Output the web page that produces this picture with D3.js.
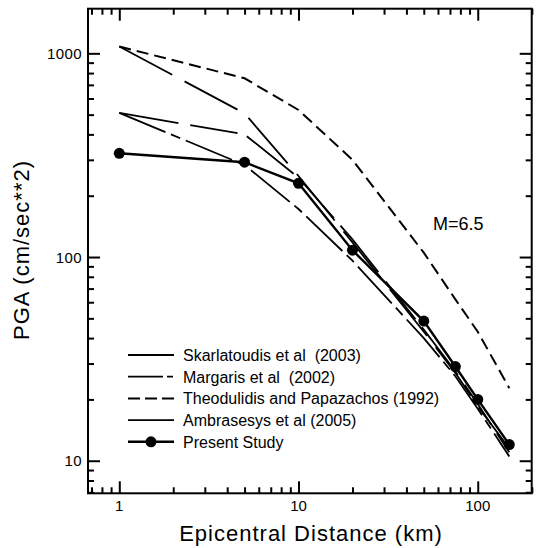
<!DOCTYPE html>
<html><head><meta charset="utf-8">
<script src="https://cdn.jsdelivr.net/npm/d3@7"></script>
<style>
html,body{margin:0;padding:0;background:#fff;}
svg{display:block;font-family:"Liberation Sans",Arial,sans-serif;}
text{white-space:pre;}
</style></head>
<body><svg id="c" width="537" height="548"></svg>
<script>
// ---- data ----
const distances = [1, 5, 10, 20, 50, 75, 100, 150];
const skarlatoudis = [1080, 507, 250, 118, 43, 27, 18.5, 11.5];
const margaris = [510, 400, 245, 122, 44, 27.5, 19, 11];
const theodulidis = [1080, 754, 527, 300, 105, 62, 43, 22.7];
const ambraseys = [510, 283, 172, 96, 40, 26, 18, 10.5];
const presentStudy = [323, 292, 230, 108, 48.5, 29, 20, 12];
const seriesNames = ["Skarlatoudis et al  (2003)", "Margaris et al  (2002)", "Theodulidis and Papazachos (1992)", "Ambrasesys et al (2005)", "Present Study"];
const xTickLabels = ["1", "10", "100"];
const yTickLabels = ["10", "100", "1000"];
const magnitudeLabel = "M=6.5";

const svg = d3.select("#c");
const L = 88, R = 531.7, T = 8.7, B = 493.3;
const x = d3.scaleLog().domain([0.669, 200]).range([L, R]);
const y = d3.scaleLog().domain([6.92, 1656]).range([B, T]);

// minor/major ticks
const xTicks = [];
[0.1, 1, 10, 100].forEach(dec => { for (let m = 1; m <= 9; m++) { const v = dec * m; if (v >= 0.669 && v <= 200) xTicks.push(v); } });
xTicks.push(200);
const yTicks = [];
[1, 10, 100, 1000].forEach(dec => { for (let m = 1; m <= 9; m++) { const v = dec * m; if (v >= 6.92 && v <= 1656) yTicks.push(v); } });
const isMajor = v => Math.abs(Math.log10(v) - Math.round(Math.log10(v))) < 1e-9;

const axG = svg.append("g");
const gB = axG.append("g").attr("transform", `translate(0,${B})`).call(d3.axisTop(x).tickValues(xTicks).tickFormat("").tickSizeOuter(0));
const gT = axG.append("g").attr("transform", `translate(0,${T})`).call(d3.axisBottom(x).tickValues(xTicks).tickFormat("").tickSizeOuter(0));
const gL = axG.append("g").attr("transform", `translate(${L},0)`).call(d3.axisRight(y).tickValues(yTicks).tickFormat("").tickSizeOuter(0));
const gR = axG.append("g").attr("transform", `translate(${R},0)`).call(d3.axisLeft(y).tickValues(yTicks).tickFormat("").tickSizeOuter(0));
[gB, gT, gL, gR].forEach(g => {
  g.select(".domain").remove();
  g.selectAll(".tick line").attr("stroke", "#000").attr("stroke-width", 2);
});
gB.selectAll(".tick line").attr("y2", d => isMajor(d) ? -12 : -6);
gT.selectAll(".tick line").attr("y2", d => isMajor(d) ? 12 : 6);
gL.selectAll(".tick line").attr("x2", d => isMajor(d) ? 12 : 6);
gR.selectAll(".tick line").attr("x2", d => isMajor(d) ? -12 : -6);

// frame
svg.append("rect").attr("x", L).attr("y", T).attr("width", R - L).attr("height", B - T)
  .attr("fill", "none").attr("stroke", "#000").attr("stroke-width", 2);

// tick labels
svg.selectAll(".xl").data(xTickLabels).enter().append("text")
  .attr("x", d => x(+d)).attr("y", 511).attr("text-anchor", "middle")
  .attr("font-size", 15).text(d => d);
svg.selectAll(".yl").data(yTickLabels).enter().append("text")
  .attr("x", 82).attr("y", d => y(+d) + 5.5).attr("text-anchor", "end")
  .attr("font-size", 15).attr("letter-spacing", 0.4).text(d => d);

// axis titles
svg.append("text").attr("x", 311).attr("y", 541).attr("text-anchor", "middle")
  .attr("font-size", 22).attr("letter-spacing", 1).text("Epicentral Distance (km)");
svg.append("text").attr("transform", "translate(29,250) rotate(-90)").attr("text-anchor", "middle")
  .attr("font-size", 22).attr("letter-spacing", 1).text("PGA (cm/sec**2)");

// series
const styles = [
  {vals: skarlatoudis, dash: "60,14", w: 1.8},
  {vals: margaris, dash: "60,12,48,10", w: 1.8},
  {vals: theodulidis, dash: "12,6", w: 2},
  {vals: ambraseys, dash: "50,6,10,6", w: 1.8},
  {vals: presentStudy, dash: null, w: 2.4}
];
const line = d3.line().x(d => x(d[0])).y(d => y(d[1]));
styles.forEach(s => {
  const pts = distances.map((d, i) => [d, s.vals[i]]);
  svg.append("path").datum(pts).attr("d", line).attr("fill", "none")
    .attr("stroke", "#000").attr("stroke-width", s.w)
    .attr("stroke-dasharray", s.dash);
});
svg.selectAll(".pt").data(distances.map((d, i) => [d, presentStudy[i]])).enter().append("circle")
  .attr("cx", d => x(d[0])).attr("cy", d => y(d[1])).attr("r", 5.5).attr("fill", "#000");

// magnitude label
svg.append("text").attr("x", 433).attr("y", 230).attr("font-size", 18).text(magnitudeLabel);

// legend
const legendDash = ["none", "35,4,6,4", "12,5", "none", "none"];
const lg = svg.append("g");
seriesNames.forEach((n, i) => {
  const yy = 355 + i * 21.7;
  lg.append("line").attr("x1", 128).attr("x2", 174).attr("y1", yy).attr("y2", yy)
    .attr("stroke", "#000").attr("stroke-width", i === 4 ? 2.4 : (i === 2 ? 2 : 1.8))
    .attr("stroke-dasharray", legendDash[i]);
  if (i === 4) lg.append("circle").attr("cx", 151).attr("cy", yy).attr("r", 5.5).attr("fill", "#000");
  lg.append("text").attr("x", 183).attr("y", yy + 5.8).attr("font-size", 16).text(n);
});
</script>
</body></html>
